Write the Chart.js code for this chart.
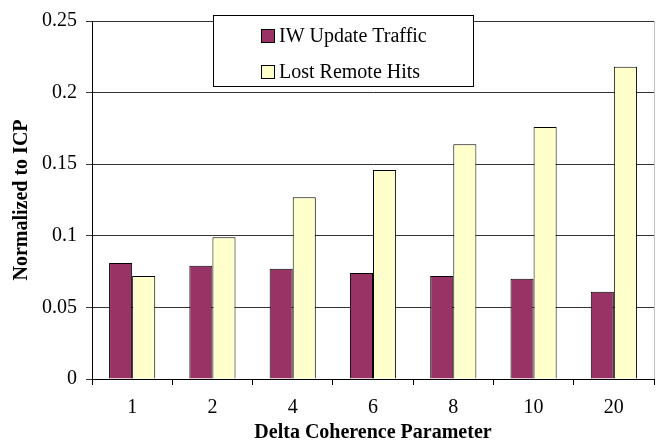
<!DOCTYPE html>
<html>
<head>
<meta charset="utf-8">
<script src="https://cdn.jsdelivr.net/npm/chart.js@4"></script>
<style>
  body { margin: 0; background: #fff; }
  #chart { display: block; }
</style>
</head>
<body>
<canvas id="chart" width="660" height="447"></canvas>
<script>
const categories = ['1', '2', '4', '6', '8', '10', '20'];
const updateTraffic = [0.081, 0.079, 0.077, 0.074, 0.072, 0.070, 0.061];
const lostRemoteHits = [0.072, 0.099, 0.127, 0.146, 0.164, 0.176, 0.218];
const yTicks = [0, 0.05, 0.1, 0.15, 0.2, 0.25];

const FONT = '"Liberation Serif", "Times New Roman", serif';

// legend box + right frame line, drawn on top of the plot
const boxLegend = {
    id: 'boxLegend',
    afterDraw(chart) {
        const ctx = chart.ctx;
        const area = chart.chartArea;

        ctx.save();
        ctx.strokeStyle = '#c0c0c0';
        ctx.lineWidth = 1;
        ctx.beginPath();
        ctx.moveTo(area.right + 0.5, area.top);
        ctx.lineTo(area.right + 0.5, area.bottom);
        ctx.stroke();

        const x = 213.5, y = 15.5, w = 260, h = 71;
        ctx.fillStyle = '#fff';
        ctx.fillRect(x, y, w, h);
        ctx.strokeStyle = '#000';
        ctx.strokeRect(x, y, w, h);

        ctx.font = '20px ' + FONT;
        ctx.textBaseline = 'middle';
        chart.data.datasets.forEach((ds, i) => {
            const cy = 36 + i * 36;
            ctx.fillStyle = ds.backgroundColor;
            ctx.fillRect(261, cy - 7, 14, 14);
            ctx.strokeStyle = '#000';
            ctx.strokeRect(261.5, cy - 6.5, 13, 13);
            ctx.fillStyle = '#000';
            ctx.fillText(ds.label, 279, cy + 1);
        });
        ctx.restore();
    }
};

new Chart(document.getElementById('chart'), {
    type: 'bar',
    data: {
        labels: categories,
        datasets: [
            {
                label: 'IW Update Traffic',
                data: updateTraffic,
                backgroundColor: '#993366',
                borderColor: '#000',
                borderWidth: 1,
            },
            {
                label: 'Lost Remote Hits',
                data: lostRemoteHits,
                backgroundColor: '#ffffcc',
                borderColor: '#000',
                borderWidth: 1,
            },
        ],
    },
    options: {
        responsive: false,
        animation: false,
        devicePixelRatio: 1,
        categoryPercentage: 0.575,
        barPercentage: 1,
        layout: { padding: { left: 0, right: 6, top: 15, bottom: 0 } },
        plugins: {
            legend: { display: false },
            tooltip: { enabled: false },
        },
        scales: {
            x: {
                grid: {
                    drawOnChartArea: false,
                    drawTicks: true,
                    tickLength: 6,
                    color: '#000',
                },
                border: { color: '#000', width: 1 },
                ticks: {
                    color: '#000',
                    padding: 11,
                    font: { family: FONT, size: 20 },
                },
                title: {
                    display: true,
                    text: 'Delta Coherence Parameter',
                    color: '#000',
                    padding: { top: 0, bottom: 2 },
                    font: { family: FONT, size: 20, weight: 'bold' },
                },
                afterFit(scale) { scale.height = 68; },
            },
            y: {
                min: 0,
                max: 0.25,
                afterBuildTicks(scale) {
                    scale.ticks = yTicks.map(v => ({ value: v }));
                },
                grid: {
                    color: '#333',
                    tickLength: 6,
                },
                border: { color: '#000', width: 1 },
                ticks: {
                    color: '#000',
                    padding: 9,
                    font: { family: FONT, size: 20 },
                    callback: v => String(v),
                },
                title: {
                    display: true,
                    text: 'Normalized to ICP',
                    color: '#000',
                    padding: { top: 10, bottom: 0 },
                    font: { family: FONT, size: 20, weight: 'bold' },
                },
                afterFit(scale) { scale.width = 92; },
            },
        },
    },
    plugins: [boxLegend],
});
</script>
</body>
</html>
